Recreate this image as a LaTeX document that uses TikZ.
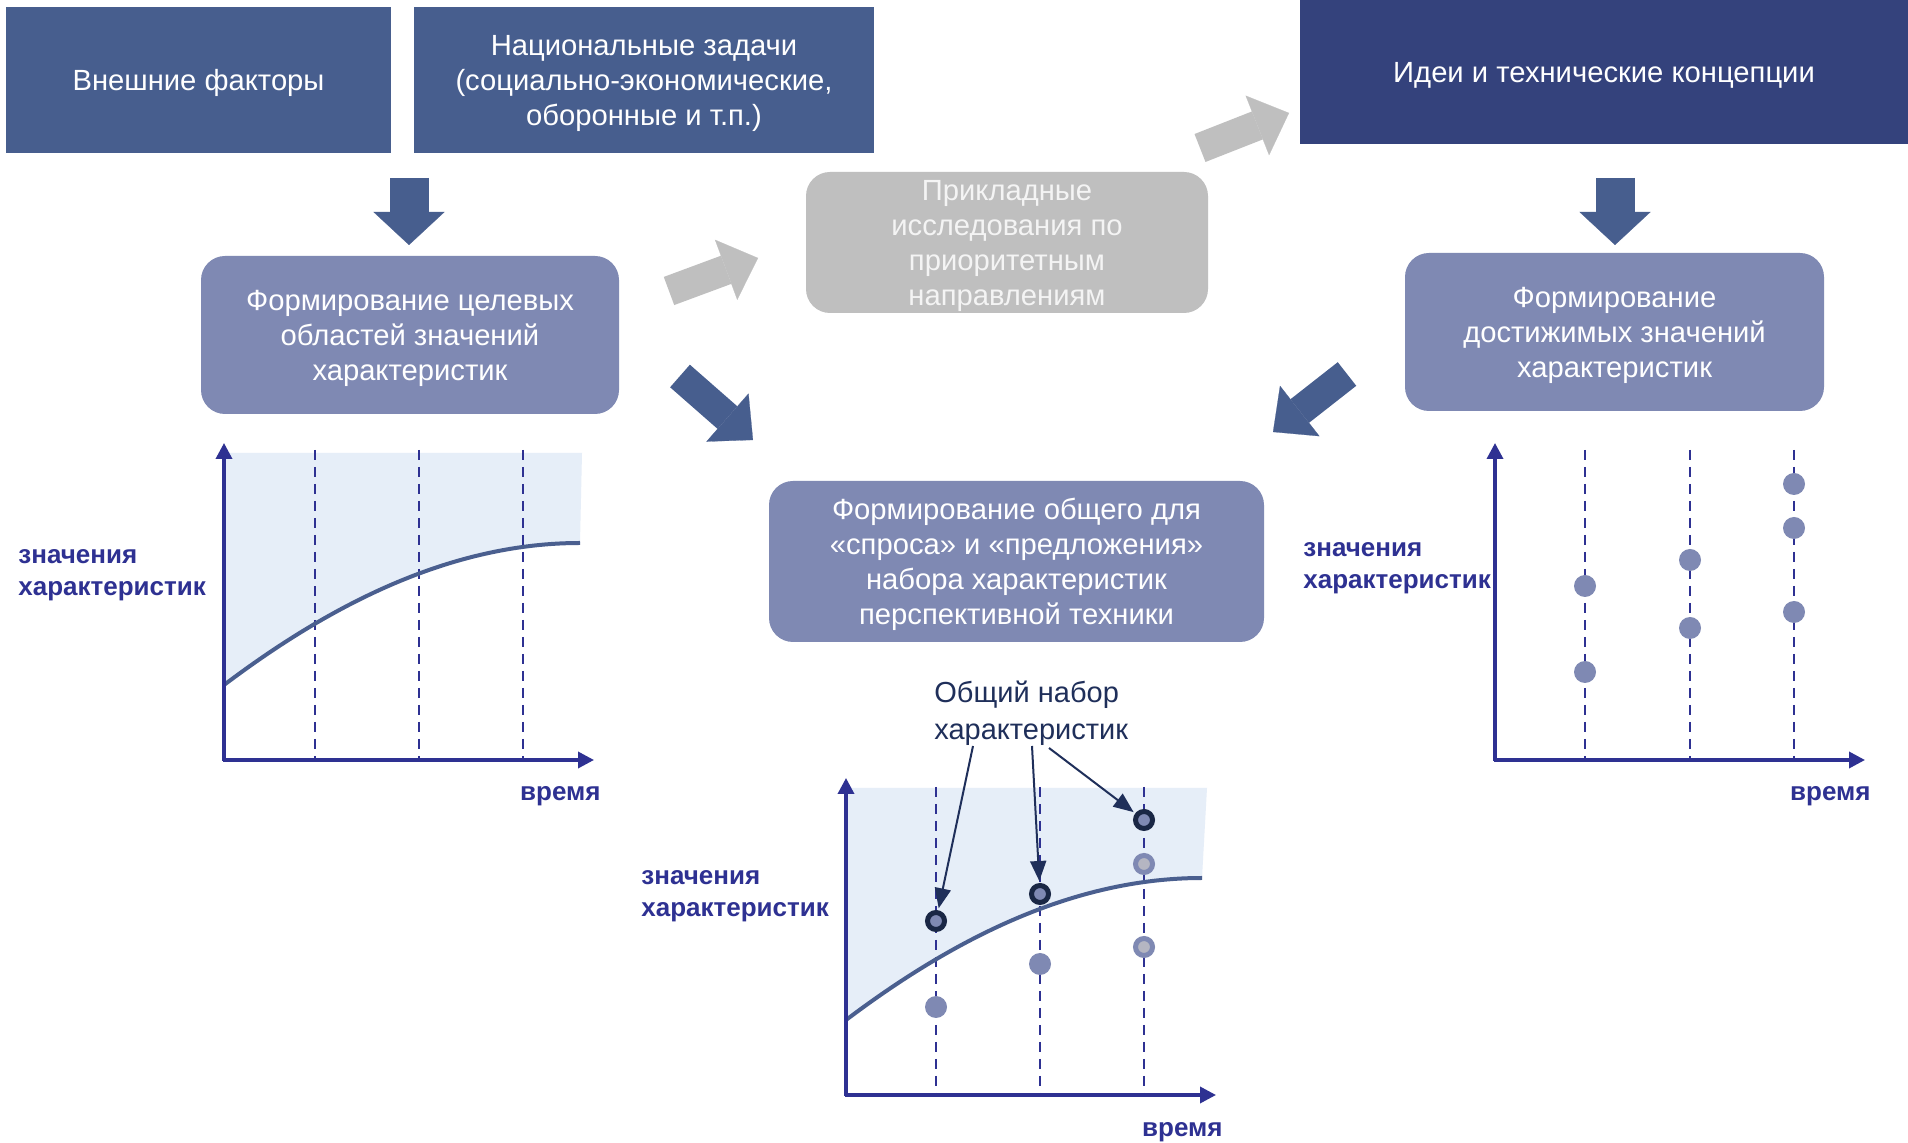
\documentclass[tikz,border=0pt]{standalone}
\usepackage{fontspec}
\setmainfont{Liberation Sans}
\usepackage{tikz}
\usetikzlibrary{arrows.meta,calc}
\definecolor{topblue}{HTML}{475E8E}
\definecolor{ideablue}{HTML}{34427C}
\definecolor{lilac}{HTML}{7F89B3}
\definecolor{greybox}{HTML}{BFBFBF}
\definecolor{greytext}{HTML}{F4F4F4}
\definecolor{axisblue}{HTML}{2E3192}
\definecolor{curveblue}{HTML}{4A5F8F}
\definecolor{areablue}{HTML}{E6EEF8}
\definecolor{ringdark}{HTML}{1A2745}
\definecolor{dotgrey}{HTML}{B5B6C2}
\definecolor{notenavy}{HTML}{1F2F5A}
\tikzset{
  boxtext/.style={font=\fontsize{14.6}{17.5}\selectfont,text=white,align=center,inner sep=0pt,text depth=0pt},
  topbox/.style={boxtext,fill=topblue,minimum height=73pt},
  roundbox/.style={boxtext,fill=lilac,rounded corners=12pt,minimum height=79pt},
  bigarrow/.style={line width=19.5pt,-{Triangle[length=16.5pt,width=35.5pt,line width=0.1pt]}},
  slantarrow/.style={line width=15pt,-{Triangle[length=17pt,width=32pt,line width=0.1pt]}},
  axisline/.style={draw=axisblue,line width=1.75pt,-{Triangle[length=8pt,width=8pt]}},
  dashline/.style={draw=axisblue,line width=1pt,dash pattern=on 5pt off 3.5pt},
  curveline/.style={draw=curveblue,line width=2pt},
  axislabel/.style={font=\bfseries\fontsize{13}{16}\selectfont,text=axisblue,align=left,inner sep=0pt},
  plaindot/.style={circle,fill=lilac,minimum size=11pt,inner sep=0pt},
  ringdot/.style={circle,fill=lilac,draw=ringdark,line width=2.5pt,minimum size=8.5pt,inner sep=0pt},
  paledot/.style={circle,fill=dotgrey,draw=lilac,line width=2.5pt,minimum size=8.5pt,inner sep=0pt},
  notearrow/.style={draw=notenavy,line width=1pt,-{Triangle[length=10pt,width=8pt]}}
}
\begin{document}
\begin{tikzpicture}[x=0.5pt,y=-0.5pt]
\fill[white] (0,0) rectangle (1908,1143);
\useasboundingbox (0,0) rectangle (1908,1143);

\node[topbox,minimum width=192.5pt] (ext) at (198.5,80) {Внешние факторы};
\node[topbox,minimum width=230pt] (nat) at (644,80) {Национальные задачи\\(социально-экономические,\\оборонные и т.п.)};
\node[topbox,fill=ideablue,minimum width=304pt,minimum height=72pt] (idea) at (1604,72) {Идеи и технические концепции};
\node[boxtext,text=greytext,fill=greybox,rounded corners=12pt,minimum width=201pt,minimum height=70.5pt] (appl) at (1007,242.5) {Прикладные\\исследования по\\приоритетным\\направлениям};
\node[roundbox,minimum width=209pt] (target) at (410,335) {Формирование целевых\\областей значений\\характеристик};
\node[roundbox,minimum width=209.5pt] (reach) at (1614.5,332) {Формирование\\достижимых значений\\характеристик};
\node[roundbox,minimum width=247.5pt,minimum height=80.5pt] (common) at (1016.5,561.5) {Формирование общего для\\«спроса» и «предложения»\\набора характеристик\\перспективной техники};

\coordinate (a1s) at (409,178);
\coordinate (a1e) at (409,245);
\coordinate (a2s) at (1615,178);
\coordinate (a2e) at (1615,245);
\coordinate (g1s) at (669,291);
\coordinate (g1e) at (758,258);
\coordinate (g2s) at (1200,148);
\coordinate (g2e) at (1289,113);
\coordinate (b1s) at (680,376);
\coordinate (b1e) at (753,440);
\coordinate (b2s) at (1347,374);
\coordinate (b2e) at (1273,432);
\draw[bigarrow,topblue] (a1s) -- (a1e);
\draw[bigarrow,topblue] (a2s) -- (a2e);
\draw[slantarrow,greybox] (g1s) -- (g1e);
\draw[slantarrow,greybox] (g2s) -- (g2e);
\draw[slantarrow,topblue] (b1s) -- (b1e);
\draw[slantarrow,topblue] (b2s) -- (b2e);

\begin{scope}
\fill[areablue] (224,685) .. controls (330,605) and (450,543) .. (580,543) -- (582,453) -- (224,453) -- cycle;
\foreach \x in {315,419,523} \draw[dashline] (\x,450) -- (\x,760);
\draw[curveline] (224,685) .. controls (330,605) and (450,543) .. (580,543);
\draw[axisline] (224,761) -- (224,443);
\draw[axisline] (223,760) -- (594,760);
\end{scope}
\node[axislabel,anchor=north west] (lefty) at (18,549) {значения\\характеристик};
\node[axislabel,anchor=base east] (leftx) at (601,801) {время};

\begin{scope}[shift={(622,335)}]
\fill[areablue] (224,685) .. controls (330,605) and (450,543) .. (580,543) -- (585,453) -- (224,453) -- cycle;
\foreach \x in {314,418,522} \draw[dashline] (\x,452) -- (\x,760);
\draw[curveline] (224,685) .. controls (330,605) and (450,543) .. (580,543);
\draw[axisline] (224,761) -- (224,443);
\draw[axisline] (223,760) -- (594,760);
\node[plaindot] (mid1) at (314,672) {};
\node[plaindot] (mid2) at (418,629) {};
\node[paledot] (pale1) at (522,529) {};
\node[paledot] (pale2) at (522,612) {};
\node[ringdot] (ring1) at (314,586) {};
\node[ringdot] (ring2) at (418,559) {};
\node[ringdot] (ring3) at (522,485) {};
\end{scope}
\node[axislabel,anchor=north west] (midy) at (641,870) {значения\\характеристик};
\node[axislabel,anchor=base east] (midx) at (1223,1137) {время};

\node[font=\fontsize{14.5}{18.5}\selectfont,text=notenavy,align=left,inner sep=0pt,anchor=north west] (note) at (934,681) {Общий набор\\характеристик};
\coordinate (n1) at (973,746);
\coordinate (n2) at (1032,746);
\coordinate (n3) at (1049,748);
\draw[notearrow,shorten >=1pt] (n1) -- (ring1);
\draw[notearrow,shorten >=1pt] (n2) -- (ring2);
\draw[notearrow,shorten >=1pt] (n3) -- (ring3);

\begin{scope}[shift={(1271,0)}]
\foreach \x in {314,419,523} \draw[dashline] (\x,450) -- (\x,760);
\draw[axisline] (224,761) -- (224,443);
\draw[axisline] (223,760) -- (594,760);
\node[plaindot] (ra1) at (314,586) {};
\node[plaindot] (ra2) at (314,672) {};
\node[plaindot] (rb1) at (419,560) {};
\node[plaindot] (rb2) at (419,628) {};
\node[plaindot] (rc1) at (523,484) {};
\node[plaindot] (rc2) at (523,528) {};
\node[plaindot] (rc3) at (523,612) {};
\end{scope}
\node[axislabel,anchor=north west] (righty) at (1303,542) {значения\\характеристик};
\node[axislabel,anchor=base east] (rightx) at (1871,801) {время};
\end{tikzpicture}
\end{document}
